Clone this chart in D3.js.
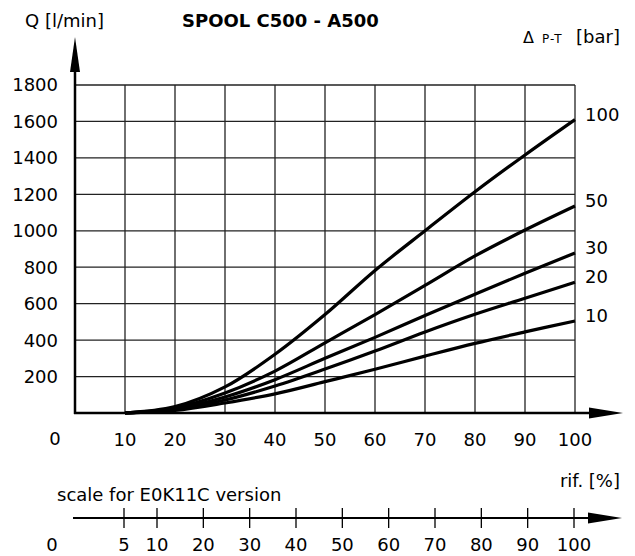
<!DOCTYPE html>
<html>
<head>
<meta charset="utf-8">
<script src="https://cdn.jsdelivr.net/npm/d3@7"></script>
<style>
  body { margin: 0; background: #fff; }
  text { font-family: "DejaVu Sans", sans-serif; fill: #000; }
</style>
</head>
<body>
<div id="chart"></div>
<script>
// Chart data
var openings = [10, 20, 30, 40, 50, 60, 70, 80, 90, 100];
var pressures = ["100", "50", "30", "20", "10"];
var flow100 = [0, 35, 143, 322, 540, 782, 1000, 1214, 1416, 1610];
var flow50 = [0, 28, 110, 230, 385, 540, 700, 862, 1004, 1136];
var flow30 = [0, 22, 88, 183, 300, 415, 535, 652, 767, 878];
var flow20 = [0, 18, 71, 148, 241, 340, 445, 542, 630, 718];
var flow10 = [0, 14, 55, 105, 172, 240, 312, 382, 445, 505];
var yTicks = [200, 400, 600, 800, 1000, 1200, 1400, 1600, 1800];
var xTicks = [10, 20, 30, 40, 50, 60, 70, 80, 90, 100];
var e0kTicks = [5, 10, 20, 30, 40, 50, 60, 70, 80, 90, 100];

var seriesList = [flow100, flow50, flow30, flow20, flow10];

// SVG area
var svgWidth = 635;
var svgHeight = 556;

var svg = d3.select("#chart")
  .append("svg")
  .attr("width", svgWidth)
  .attr("height", svgHeight);

// Scales for the main chart
var xScale = d3.scaleLinear().domain([0, 100]).range([75, 575]);
var yScale = d3.scaleLinear().domain([0, 1800]).range([413, 85]);

// Second (E0K11C) scale: 5 sits under main 10, then linear
var xScale2 = d3.scaleLinear().domain([5, 10, 100]).range([124, 157, 574]);

// Grid
var grid = svg.append("g").attr("stroke", "#222").attr("stroke-width", 1.3);
grid.selectAll(".hgrid")
  .data(yTicks)
  .enter()
  .append("line")
  .attr("x1", xScale(0))
  .attr("x2", xScale(100))
  .attr("y1", d => yScale(d))
  .attr("y2", d => yScale(d));
grid.selectAll(".vgrid")
  .data(xTicks)
  .enter()
  .append("line")
  .attr("x1", d => xScale(d))
  .attr("x2", d => xScale(d))
  .attr("y1", yScale(0))
  .attr("y2", yScale(1800));

// Axes with arrowheads
var axes = svg.append("g").attr("stroke", "#000").attr("stroke-width", 2.5);
axes.append("line")
  .attr("x1", xScale(0)).attr("x2", xScale(0))
  .attr("y1", yScale(0) + 1).attr("y2", 60);
axes.append("line")
  .attr("x1", xScale(0) - 1).attr("x2", 600)
  .attr("y1", yScale(0)).attr("y2", yScale(0));
svg.append("path")
  .attr("d", `M${xScale(0)},37 L${xScale(0) - 5},72 L${xScale(0) + 5},72 Z`)
  .attr("fill", "#000");
svg.append("path")
  .attr("d", `M623,${yScale(0)} L589,${yScale(0) - 5.5} L589,${yScale(0) + 5.5} Z`)
  .attr("fill", "#000");

// Y tick labels
svg.selectAll(".ylabel")
  .data(yTicks)
  .enter()
  .append("text")
  .attr("x", 58)
  .attr("y", d => yScale(d))
  .attr("dy", "0.36em")
  .attr("text-anchor", "end")
  .style("font-size", "18px")
  .text(d => d);

// X tick labels
svg.selectAll(".xlabel")
  .data(xTicks)
  .enter()
  .append("text")
  .attr("x", d => xScale(d))
  .attr("y", 446)
  .attr("text-anchor", "middle")
  .style("font-size", "18px")
  .text(d => d);
svg.append("text")
  .attr("x", xScale(0) - 20)
  .attr("y", 445)
  .attr("text-anchor", "middle")
  .style("font-size", "18px")
  .text("0");

// Curves (smooth through the read points)
var line = d3.line()
  .x((d, i) => xScale(openings[i]))
  .y(d => yScale(Math.max(0, d)))
  .curve(d3.curveCatmullRom.alpha(0.5));

svg.selectAll(".curve")
  .data(seriesList)
  .enter()
  .append("path")
  .attr("d", line)
  .attr("fill", "none")
  .attr("stroke", "#000")
  .attr("stroke-width", 3.2)
  .attr("stroke-linejoin", "round");

// Curve labels
svg.selectAll(".clabel")
  .data(seriesList)
  .enter()
  .append("text")
  .attr("x", xScale(100) + 10)
  .attr("y", d => yScale(d[d.length - 1]) + 1)
  .style("font-size", "18px")
  .text((d, i) => pressures[i]);

// Titles
svg.append("text")
  .attr("x", 25)
  .attr("y", 27)
  .style("font-size", "18px")
  .text("Q [l/min]");
svg.append("text")
  .attr("x", 182)
  .attr("y", 27)
  .style("font-size", "18px")
  .style("font-weight", "bold")
  .text("SPOOL C500 - A500");

var dp = svg.append("text").attr("y", 43);
dp.append("tspan").attr("x", 523).style("font-size", "16px").text("\u0394");
dp.append("tspan").attr("x", 542).style("font-size", "12px").style("letter-spacing", "1px").text("P-T");
dp.append("tspan").attr("x", 576).style("font-size", "18px").text("[bar]");

svg.append("text")
  .attr("x", 620)
  .attr("y", 487)
  .attr("text-anchor", "end")
  .style("font-size", "18px")
  .text("rif. [%]");

// Second scale
svg.append("text")
  .attr("x", 57)
  .attr("y", 501)
  .style("font-size", "18px")
  .text("scale for E0K11C version");

var axis2 = svg.append("g").attr("stroke", "#000");
axis2.append("line")
  .attr("x1", 73).attr("x2", 592)
  .attr("y1", 518).attr("y2", 518)
  .attr("stroke-width", 2);
axis2.selectAll(".tick2")
  .data(e0kTicks)
  .enter()
  .append("line")
  .attr("x1", d => xScale2(d))
  .attr("x2", d => xScale2(d))
  .attr("y1", 508)
  .attr("y2", 528)
  .attr("stroke-width", 1.3);
svg.append("path")
  .attr("d", "M622,518 L588,512.5 L588,523.5 Z")
  .attr("fill", "#000");

svg.selectAll(".xlabel2")
  .data(e0kTicks)
  .enter()
  .append("text")
  .attr("x", d => xScale2(d))
  .attr("y", 551)
  .attr("text-anchor", "middle")
  .style("font-size", "18px")
  .text(d => d);
svg.append("text")
  .attr("x", 52)
  .attr("y", 551)
  .attr("text-anchor", "middle")
  .style("font-size", "18px")
  .text("0");
</script>
</body>
</html>
